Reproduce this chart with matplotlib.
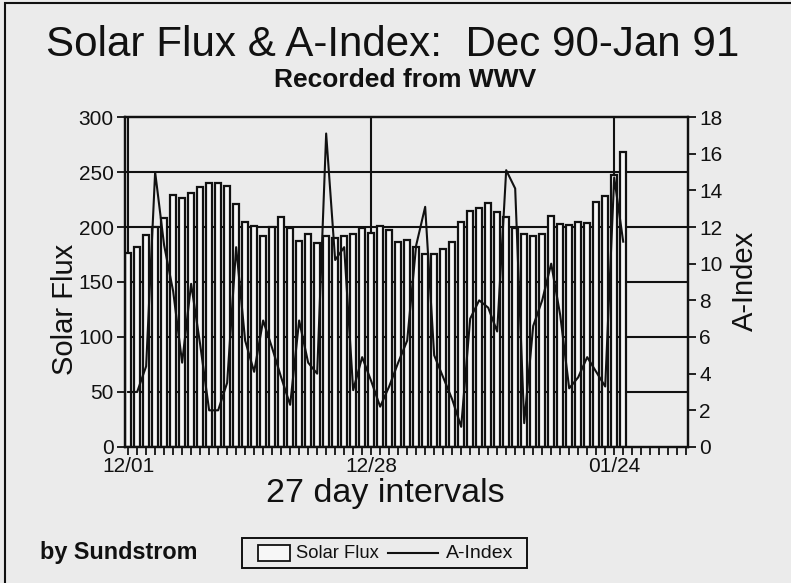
import matplotlib
matplotlib.use('Agg')
import matplotlib.pyplot as plt
from matplotlib.lines import Line2D
from matplotlib.patches import Rectangle

# ---------------- data ----------------
days = list(range(56))  # 12/01/90 ... 01/25/91
solar_flux = [176, 182, 193, 200, 208, 229, 226, 231, 236, 240,
              240, 237, 221, 205, 201, 192, 200, 209, 199, 187,
              194, 185, 192, 190, 192, 194, 199, 195, 201, 197,
              186, 188, 182, 175, 175, 180, 186, 205, 215, 217,
              222, 214, 209, 199, 194, 192, 194, 210, 203, 202,
              205, 204, 223, 228, 247, 268]
a_index = [3.0, 3.0, 4.4, 15.0, 11.0, 8.5, 4.6, 8.9, 5.6, 2.0,
           2.0, 3.5, 10.9, 5.8, 4.1, 6.9, 5.4, 3.8, 2.3, 6.9,
           4.6, 4.0, 17.1, 10.2, 10.9, 3.1, 4.9, 3.6, 2.2, 3.3,
           4.6, 5.8, 11.0, 13.1, 5.0, 3.8, 2.6, 1.1, 7.0, 8.0,
           7.6, 6.3, 15.1, 14.1, 1.3, 6.6, 8.0, 10.0, 7.2, 3.2,
           3.8, 4.9, 4.1, 3.3, 14.7, 11.2]
x_tick_pos = [0, 27, 54]
x_tick_labels = ['12/01', '12/28', '01/24']
flux_ticks = [0, 50, 100, 150, 200, 250, 300]
a_ticks = [0, 2, 4, 6, 8, 10, 12, 14, 16, 18]

# ---------------- style ----------------
plt.rcParams['font.family'] = ['Liberation Sans', 'DejaVu Sans']
bg = '#ebebeb'
ink = '#111111'
barfill = '#f7f7f7'

fig = plt.figure(figsize=(7.91, 5.83), dpi=100, facecolor=bg)
ax = fig.add_axes([0.158, 0.2333, 0.7118, 0.5660])
ax.set_facecolor(bg)

# grid lines (behind bars)
for v in flux_ticks[1:-1]:
    ax.axhline(v, color=ink, lw=1.5, zorder=1)
for d in x_tick_pos:
    ax.axvline(d, color=ink, lw=1.5, zorder=1)

ax.bar(days, solar_flux, width=0.68, color=barfill, edgecolor=ink,
       linewidth=1.6, zorder=2)

ax.set_xlim(-0.35, 62.2)
ax.set_ylim(0, 300)
ax.set_yticks(flux_ticks)
ax.set_xticks(x_tick_pos)
ax.set_xticklabels(x_tick_labels)
ax.set_xticks(list(range(0, 63)), minor=True)
ax.tick_params(axis='both', which='both', direction='out', color=ink,
               width=1.3, labelsize=15, colors=ink)
ax.tick_params(axis='x', which='both', length=6, pad=1)
ax.tick_params(axis='y', which='major', length=6, pad=2)
for s in ax.spines.values():
    s.set_linewidth(1.6)
    s.set_color(ink)

ax2 = ax.twinx()
ax2.plot(days, a_index, color=ink, lw=1.5, zorder=5)
ax2.set_ylim(0, 18)
ax2.set_yticks(a_ticks)
ax2.tick_params(axis='y', direction='out', length=6, width=1.3,
                labelsize=15, colors=ink, pad=2)
for s in ax2.spines.values():
    s.set_linewidth(1.6)
    s.set_color(ink)

# ---------------- text ----------------
fig.text(0.496, 0.923, 'Solar Flux & A-Index:  Dec 90-Jan 91',
         ha='center', va='center', fontsize=30.3, color=ink)
fig.text(0.512, 0.862, 'Recorded from WWV', ha='center', va='center',
         fontsize=19, fontweight='bold', color=ink)
fig.text(0.0825, 0.470, 'Solar Flux', rotation=90, ha='center',
         va='center', fontsize=21, color=ink)
fig.text(0.942, 0.518, 'A-Index', rotation=90, ha='center',
         va='center', fontsize=21, color=ink)
fig.text(0.487, 0.153, '27 day intervals', ha='center', va='center',
         fontsize=24.5, color=ink)
fig.text(0.0506, 0.0515, 'by Sundstrom', ha='left', va='center',
         fontsize=16.8, fontweight='bold', color=ink)

# legend drawn by hand (different handle sizes for patch and line)
W, H = 791.0, 583.0
def fx(px):
    return px / W
def fy(py):
    return 1 - py / H

fig.add_artist(Rectangle((fx(242), fy(568)), fx(527) - fx(242), fy(538) - fy(568),
                         transform=fig.transFigure, facecolor=bg,
                         edgecolor=ink, linewidth=1.4))
fig.add_artist(Rectangle((fx(258), fy(561)), fx(290) - fx(258), fy(545) - fy(561),
                         transform=fig.transFigure, facecolor=barfill,
                         edgecolor=ink, linewidth=1.3))
fig.text(fx(296), fy(553), 'Solar Flux', ha='left', va='center',
         fontsize=13.2, color=ink)
fig.add_artist(Line2D([fx(388), fx(438)], [fy(553), fy(553)],
                      transform=fig.transFigure, color=ink, lw=1.5))
fig.text(fx(446), fy(553), 'A-Index', ha='left', va='center',
         fontsize=14, color=ink)

# outer frame
fig.add_artist(Rectangle((0.006, -0.02), 1.2, 1.015, transform=fig.transFigure,
                         fill=False, edgecolor=ink, linewidth=1.5))

fig.savefig('out.png', dpi=100, facecolor=bg)
